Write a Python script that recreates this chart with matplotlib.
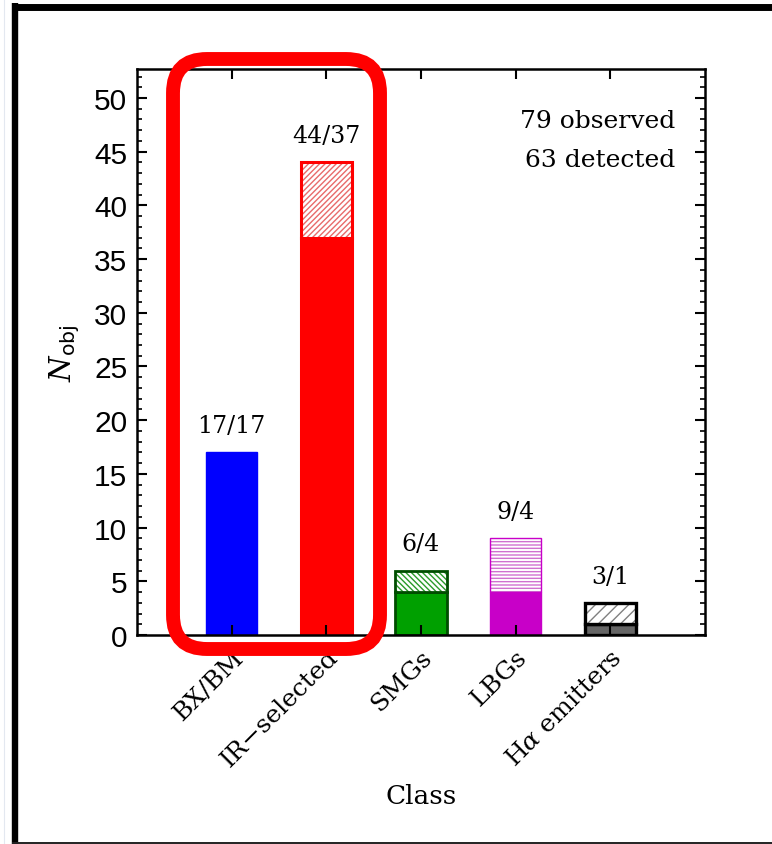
import matplotlib
matplotlib.use("Agg")
import matplotlib.pyplot as plt
from matplotlib.patches import FancyBboxPatch
from matplotlib.lines import Line2D
from matplotlib.ticker import MultipleLocator
from matplotlib.transforms import ScaledTranslation

# Daten
classes = ["BX/BM", "IR\u2212selected", "SMGs", "LBGs", r"H$\alpha$ emitters"]
n_observed = [17, 44, 6, 9, 3]
n_detected = [17, 37, 4, 4, 1]
fill_colors = ["#0000ff", "#ff0000", "#00a000", "#c800c8", "#666666"]
edge_colors = ["#0000ff", "#ff0000", "#004d00", "#c800c8", "#000000"]
hatch_colors = ["#0000ff", "#e86a6a", "#2a9a2a", "#d070d0", "#808080"]
hatches = ["", "//////", "\\\\\\\\\\\\", "-----", "///"]
edge_widths = [1.0, 2.2, 2.0, 1.0, 2.4]

plt.rcParams["mathtext.fontset"] = "dejavuserif"
plt.rcParams["hatch.linewidth"] = 1.0

fig = plt.figure(figsize=(7.72, 8.45), dpi=100)
W, H = 772, 845
ax = fig.add_axes([137 / W, 1 - 636 / H, (705 - 137) / W, (636 - 70) / H])

x = list(range(len(classes)))
width = 0.54
for i in x:
    obs, det = n_observed[i], n_detected[i]
    ax.bar(i, det, width, color=fill_colors[i], edgecolor=edge_colors[i],
           linewidth=edge_widths[i])
    if obs > det:
        ax.bar(i, obs - det, width, bottom=det, color="white",
               edgecolor=hatch_colors[i], hatch=hatches[i], linewidth=0)
        ax.bar(i, obs - det, width, bottom=det, fill=False,
               edgecolor=edge_colors[i], linewidth=edge_widths[i])
    ax.annotate(f"{obs}/{det}", xy=(i, obs), xytext=(0, 14.5),
                textcoords="offset points", ha="center", va="baseline",
                fontsize=17, family="DejaVu Serif")

ax.set_xlim(-1, 5)
ax.set_ylim(0, 52.7)
ax.yaxis.set_major_locator(MultipleLocator(5))
ax.yaxis.set_minor_locator(MultipleLocator(1))
ax.set_xticks(x)
ax.tick_params(axis="both", which="major", direction="in", length=7.5, width=1.5,
               top=True, right=True)
ax.tick_params(axis="y", which="minor", direction="in", length=3.8, width=1.2,
               right=True)
ax.tick_params(axis="x", which="major", pad=13)
ax.tick_params(axis="y", which="major", pad=7, labelsize=21.5)
ax.set_xticklabels(classes, rotation=45, ha="right", va="center",
                   rotation_mode="anchor", fontsize=18, family="DejaVu Serif")
shift = ScaledTranslation(8 / 100, 0, fig.dpi_scale_trans)
for lab in ax.get_xticklabels():
    lab.set_transform(lab.get_transform() + shift)
for lab in ax.get_yticklabels():
    lab.set_family("Liberation Sans")
for sp in ax.spines.values():
    sp.set_linewidth(1.8)

ax.set_xlabel("Class", fontsize=19, family="DejaVu Serif")
ax.xaxis.set_label_coords(0.5, -0.262)
ax.set_ylabel(r"$N_{\mathsf{obj}}$", fontsize=21, va="center", rotation_mode="default")
ax.yaxis.set_label_coords(-0.127, 0.5)

ax.text(0.947, 0.8975, "79 observed", transform=ax.transAxes, ha="right",
        va="baseline", fontsize=18, family="DejaVu Serif")
ax.text(0.947, 0.8286, "63 detected", transform=ax.transAxes, ha="right",
        va="baseline", fontsize=18, family="DejaVu Serif")

# roter Rahmen um die ersten zwei Balken (Pixelkoordinaten)
box = FancyBboxPatch((173, H - 650), 207, 590, boxstyle="round,pad=0,rounding_size=34",
                     transform=None, linewidth=10, edgecolor="#ff0000",
                     facecolor="none", clip_on=False, zorder=10)
fig.add_artist(box)

# schwarzer Screenshot-Rahmen
fig.add_artist(Line2D([15 / W, 15 / W], [1 - 4 / H, 0], transform=fig.transFigure,
                      color="black", linewidth=4.6, solid_capstyle="butt"))
fig.add_artist(Line2D([12 / W, 1], [1 - 7.5 / H, 1 - 7.5 / H], transform=fig.transFigure,
                      color="black", linewidth=5.0, solid_capstyle="butt"))
fig.add_artist(Line2D([12 / W, 1], [1.2 / H, 1.2 / H], transform=fig.transFigure,
                      color="#222222", linewidth=1.4, solid_capstyle="butt"))
fig.add_artist(Line2D([4 / W, 4 / W], [0, 1], transform=fig.transFigure,
                      color="#e3e8f0", linewidth=0.8))

fig.savefig("out.png", dpi=100)
